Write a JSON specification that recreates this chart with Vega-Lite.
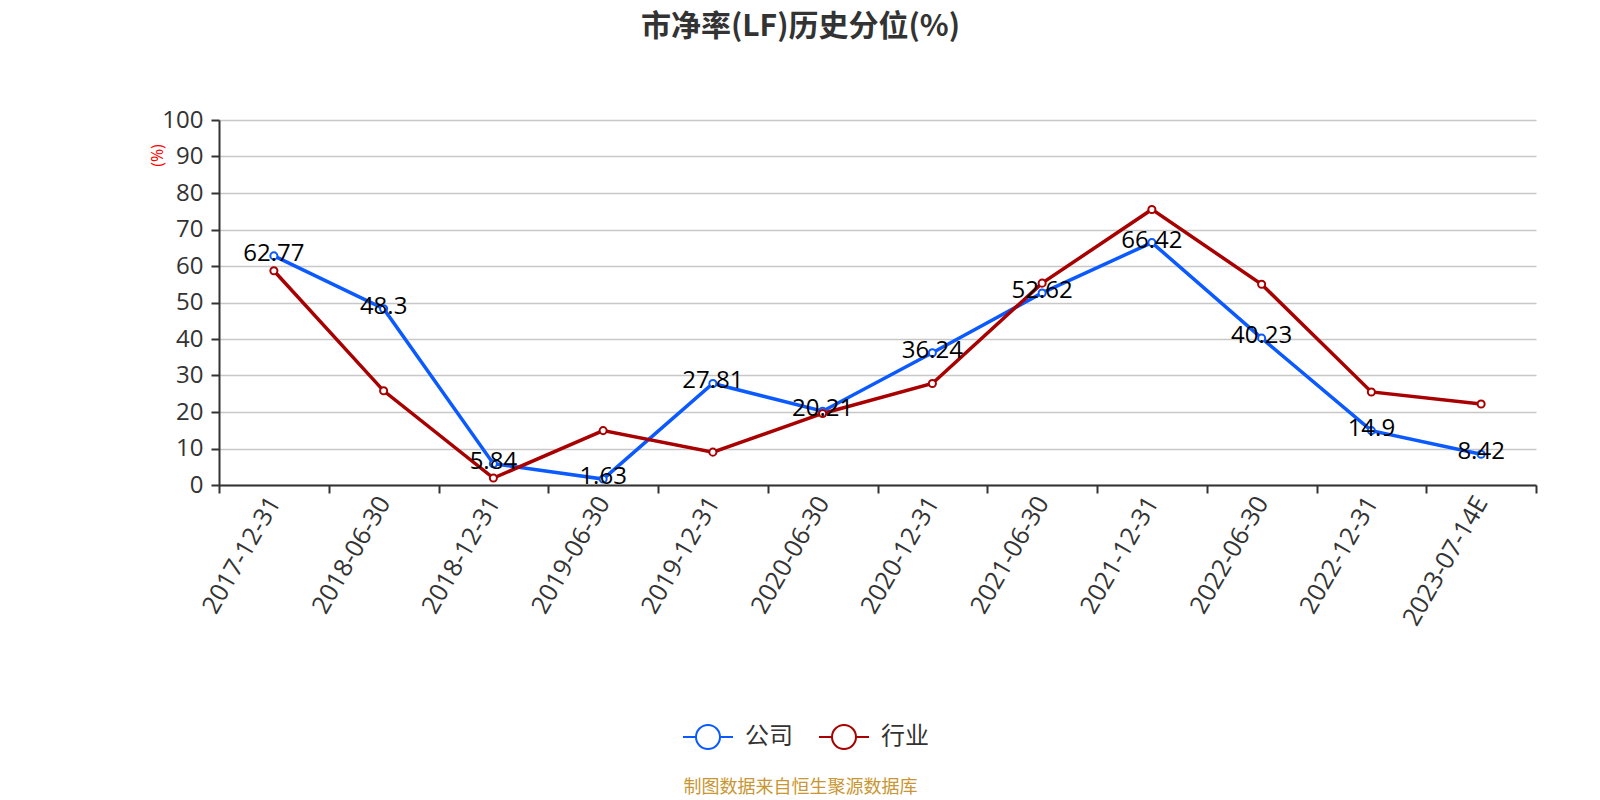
{
  "$schema": "https://vega.github.io/schema/vega-lite/v6.json",
  "width": 1317,
  "height": 365,
  "autosize": {"type": "none"},
  "padding": {"left": 219, "top": 120, "right": 64, "bottom": 315},
  "background": "white",
  "config": {"font": "Open Sans, Noto Sans CJK SC, sans-serif", "view": {"stroke": null}},
  "title": {"text": "市净率(LF)历史分位(%)", "font": "Noto Sans CJK SC", "fontSize": 30, "fontWeight": "bold", "color": "#333333", "anchor": "middle", "frame": "group", "dx": -77, "offset": 66},
  "data": {"values": [
    {"date": "2017-12-31", "series": "公司", "value": 62.77},
    {"date": "2018-06-30", "series": "公司", "value": 48.3},
    {"date": "2018-12-31", "series": "公司", "value": 5.84},
    {"date": "2019-06-30", "series": "公司", "value": 1.63},
    {"date": "2019-12-31", "series": "公司", "value": 27.81},
    {"date": "2020-06-30", "series": "公司", "value": 20.21},
    {"date": "2020-12-31", "series": "公司", "value": 36.24},
    {"date": "2021-06-30", "series": "公司", "value": 52.62},
    {"date": "2021-12-31", "series": "公司", "value": 66.42},
    {"date": "2022-06-30", "series": "公司", "value": 40.23},
    {"date": "2022-12-31", "series": "公司", "value": 14.9},
    {"date": "2023-07-14E", "series": "公司", "value": 8.42},
    {"date": "2017-12-31", "series": "行业", "value": 58.7},
    {"date": "2018-06-30", "series": "行业", "value": 25.8},
    {"date": "2018-12-31", "series": "行业", "value": 1.9},
    {"date": "2019-06-30", "series": "行业", "value": 14.9},
    {"date": "2019-12-31", "series": "行业", "value": 9.0},
    {"date": "2020-06-30", "series": "行业", "value": 19.6},
    {"date": "2020-12-31", "series": "行业", "value": 27.8},
    {"date": "2021-06-30", "series": "行业", "value": 55.3},
    {"date": "2021-12-31", "series": "行业", "value": 75.5},
    {"date": "2022-06-30", "series": "行业", "value": 55.0},
    {"date": "2022-12-31", "series": "行业", "value": 25.5},
    {"date": "2023-07-14E", "series": "行业", "value": 22.2}
  ]},
  "encoding": {
    "x": {
      "field": "date", "type": "ordinal", "sort": null,
      "scale": {"type": "band", "paddingInner": 0, "paddingOuter": 0},
      "axis": {
        "title": "制图数据来自恒生聚源数据库", "titleColor": "#C89632", "titleFontSize": 18, "titleFontWeight": "normal",
        "titleFont": "Noto Sans CJK SC", "titleX": 581, "titleY": 302, "titleAlign": "center", "titleBaseline": "middle",
        "labelAngle": -60, "labelFontSize": 25, "labelColor": "#333333", "labelPadding": 5,
        "tickBand": "extent", "tickSize": 8, "tickColor": "#333333", "tickWidth": 2,
        "domainColor": "#333333", "domainWidth": 2, "grid": false
      }
    },
    "y": {
      "field": "value", "type": "quantitative",
      "scale": {"domain": [0, 100], "nice": false},
      "axis": {
        "title": "(%)", "titleColor": "red", "titleFontSize": 16, "titleFontWeight": "normal",
        "titleAngle": -90, "titleX": -62, "titleY": 35, "titleAlign": "center", "titleBaseline": "middle",
        "values": [0, 10, 20, 30, 40, 50, 60, 70, 80, 90, 100],
        "labelFontSize": 24, "labelColor": "#333333", "labelPadding": 8,
        "tickSize": 8, "tickColor": "#333333", "tickWidth": 2,
        "domainColor": "#333333", "domainWidth": 2,
        "gridColor": "#c8c8c8", "gridWidth": 1.5
      }
    },
    "color": {
      "field": "series", "type": "nominal", "sort": null,
      "scale": {"domain": ["公司", "行业"], "range": ["#0A5AFF", "#A80000"]},
      "legend": {
        "orient": "none", "legendX": 463, "legendY": 591, "direction": "horizontal", "title": null,
        "symbolType": "M-1,0L-0.48,0M0.48,0L1,0M-0.48,0A0.48,0.48,0,1,1,0.48,0A0.48,0.48,0,1,1,-0.48,0Z",
        "symbolSize": 2500, "symbolStrokeWidth": 2, "symbolFillColor": "white",
        "labelFontSize": 24, "labelColor": "#333333", "labelOffset": 11, "columnPadding": 22
      }
    }
  },
  "layer": [
    {"mark": {"type": "line", "strokeWidth": 3.5}},
    {"mark": {"type": "point", "shape": "circle", "filled": false, "fill": "white", "fillOpacity": 1, "opacity": 1, "size": 50, "strokeWidth": 2}},
    {
      "transform": [{"filter": "datum.series === '公司'"}],
      "mark": {"type": "text", "fontSize": 24, "baseline": "middle", "align": "center", "dy": -2},
      "encoding": {"text": {"field": "value", "type": "quantitative"}, "color": {"value": "#000000"}}
    }
  ]
}
